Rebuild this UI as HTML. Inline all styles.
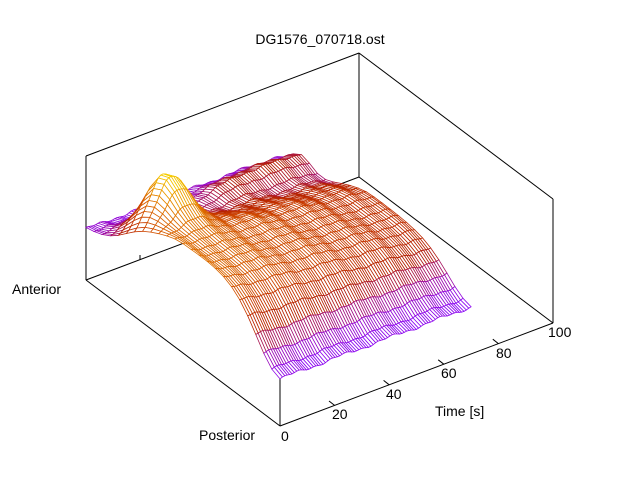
<!DOCTYPE html>
<html><head><meta charset="utf-8"><style>
html,body{margin:0;padding:0;background:#fff;}
svg{display:block;font-family:"Liberation Sans",sans-serif;}
</style></head><body>
<svg id="s" width="640" height="480" viewBox="0 0 640 480" xmlns="http://www.w3.org/2000/svg">
<rect width="640" height="480" fill="#fff"/>
<g id="box" stroke="#000" stroke-width="1" fill="none">
<line x1="86" y1="156" x2="86" y2="280"/>
<line x1="86" y1="156" x2="359" y2="53"/>
<line x1="359" y1="53" x2="553" y2="199"/>
<line x1="359" y1="53" x2="359" y2="177"/>
<line x1="553" y1="199" x2="553" y2="323"/>
<line x1="86" y1="280" x2="359" y2="177"/>
<line x1="359" y1="177" x2="553" y2="323"/>
<line x1="280" y1="302" x2="280" y2="426"/>
<line x1="140" y1="260" x2="140" y2="255"/>
</g>
<g id="mesh"></g>
<g stroke="#000" stroke-width="1" fill="none">
<line x1="86" y1="280" x2="280" y2="426"/>
<line x1="280" y1="426" x2="553" y2="323"/>
<line x1="334.6" y1="405.4" x2="329" y2="401"/>
<line x1="389.2" y1="384.8" x2="383.6" y2="380.4"/>
<line x1="443.8" y1="364.2" x2="438.2" y2="359.8"/>
<line x1="498.4" y1="343.6" x2="492.8" y2="339.2"/>
</g>
<g font-size="14" fill="#000">
<text x="320" y="44" text-anchor="middle">DG1576_070718.ost</text>
<text x="12" y="294">Anterior</text>
<text x="199" y="440">Posterior</text>
<text x="281" y="441">0</text>
<text x="332" y="419">20</text>
<text x="386" y="399">40</text>
<text x="441" y="378">60</text>
<text x="496" y="358">80</text>
<text x="548" y="337">100</text>
<text x="435" y="416">Time [s]</text>
</g>
</svg>
<script>
(function(){
function P(a,t,z){return [280-194*a+2.73*t, 426-146*a-1.03*t-124*z];}
function ss(x,e0,e1){var u=Math.min(1,Math.max(0,(x-e0)/(e1-e0)));return u*u*(3-2*u);}
function Z(a,t){
 var m=Math.max(0,a-0.5);
 var D=0.5*(1-Math.exp(-Math.pow(a/0.17,2)))*Math.exp(-m*m/0.09);
 var z=0.38+D*(1-0.42*t/70);
 z+=0.45*Math.exp(-Math.pow((a-0.74)/0.12,2)-Math.pow((t-11)/8,2));
 z+=0.15*Math.exp(-Math.pow((a-0.88)/0.08,2))*ss(t,20,50);
 z+=0.01*Math.sin(t*0.35+a*7)+0.006*Math.sin(t*1.1-a*11);
 return z;
}
function col(z){
 var g=Math.max(0,Math.min(1,(z-0.05)/1.1));
 var r=Math.sqrt(g),gg=g*g*g,b=Math.max(0,Math.sin(2*Math.PI*g));
 return 'rgb('+Math.round(r*255)+','+Math.round(gg*255)+','+Math.round(b*255)+')';
}
var na=24,nt=80,tm=70,q=[];
for(var i=0;i<na;i++)for(var j=0;j<nt;j++){
 var a0=i/na,a1=(i+1)/na,t0=j*tm/nt,t1=(j+1)*tm/nt;
 var c=[[a0,t0],[a1,t0],[a1,t1],[a0,t1]],pts=[],zs=0;
 for(var k=0;k<4;k++){var z=Z(c[k][0],c[k][1]);zs+=z;var p=P(c[k][0],c[k][1],z);pts.push(p[0].toFixed(1)+','+p[1].toFixed(1));}
 q.push({d:(a0+a1)/2+(t0+t1)/200,p:pts.join(' '),c:col(zs/4)});
}
q.sort(function(x,y){return y.d-x.d;});
var s='';
for(var n=0;n<q.length;n++)s+='<polygon points="'+q[n].p+'" fill="#fff" stroke="'+q[n].c+'" stroke-width="0.8"/>';
document.getElementById('mesh').innerHTML=s;
})();
</script>
</body></html>
